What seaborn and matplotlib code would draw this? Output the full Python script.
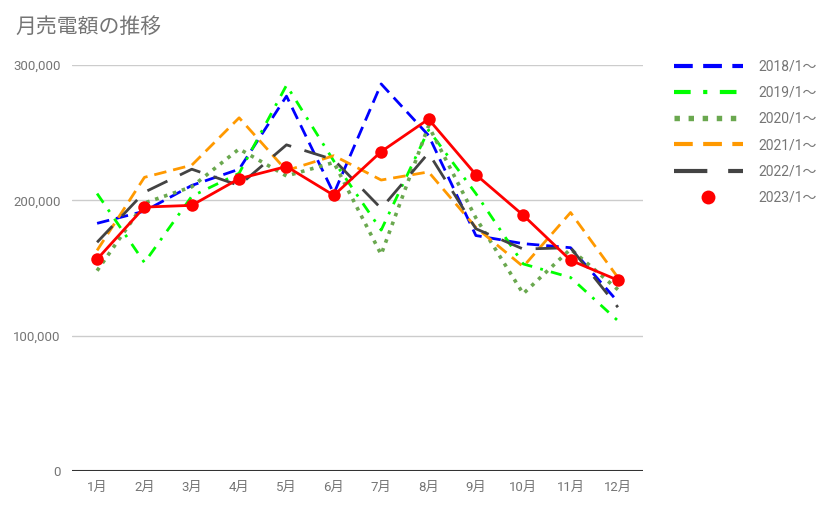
import matplotlib
matplotlib.use("Agg")
import matplotlib.pyplot as plt
from matplotlib.lines import Line2D
from matplotlib.ticker import FuncFormatter
import seaborn as sns
import pandas as pd

# monthly sales
months = ["1月", "2月", "3月", "4月", "5月", "6月", "7月", "8月", "9月", "10月", "11月", "12月"]
years = ["2018/1〜", "2019/1〜", "2020/1〜", "2021/1〜", "2022/1〜", "2023/1〜"]

sales_2018 = [183000, 192000, 211000, 223000, 277000, 205000, 286000, 248000, 174000, 168000, 165000, 125000]
sales_2019 = [205000, 154000, 203000, 220000, 285000, 229000, 178000, 252000, 205000, 153000, 143000, 111000]
sales_2020 = [148000, 198000, 210000, 238000, 218000, 228000, 160000, 255000, 187000, 131000, 164000, 134000]
sales_2021 = [163000, 217000, 226000, 261000, 222000, 233000, 215000, 221000, 180000, 151000, 191000, 143000]
sales_2022 = [169000, 206000, 223000, 211000, 241000, 230000, 194000, 235000, 179000, 164000, 165000, 121000]
sales_2023 = [156500, 195000, 196300, 216000, 225000, 203700, 236000, 260000, 219000, 189000, 155700, 141000]

series = [sales_2018, sales_2019, sales_2020, sales_2021, sales_2022, sales_2023]
colors = ["#0000ff", "#00ff00", "#6aa84f", "#ff9900", "#434343", "#ff0000"]
styles = [(0, (4.5, 2.5)), (0, (4, 3, 1, 3)), (0, (1, 1.6)), (0, (4.5, 2.5)), (0, (8, 5)), "-"]
widths = [2, 2, 2.6, 2, 2, 2]

sns.set_style("white")
plt.rcParams["font.family"] = ["Roboto", "Noto Sans CJK JP", "DejaVu Sans"]
grey = "#757575"

fig = plt.figure(figsize=(8.36, 5.08), dpi=100)
ax = fig.add_axes([72 / 836, 1 - 471 / 508, (643 - 72) / 836, (471 - 65) / 508])

for lab, vals, c, ls, lw in zip(years, series, colors, styles, widths):
    df = pd.DataFrame({"month": months, "sales": vals})
    if lab == "2023/1〜":
        sns.lineplot(data=df, x="month", y="sales", ax=ax, color=c, linewidth=lw,
                     marker="o", markersize=9, markeredgewidth=0, zorder=5)
    else:
        sns.lineplot(data=df, x="month", y="sales", ax=ax, color=c, linewidth=lw,
                     linestyle=ls)

ax.set_xlim(-0.53, 11.53)
ax.set_ylim(0, 300000)
ax.set_yticks([0, 100000, 200000, 300000])
ax.yaxis.set_major_formatter(FuncFormatter(lambda v, p: f"{int(v):,}"))
ax.grid(axis="y", color="#cccccc", linewidth=1)
ax.grid(axis="x", visible=False)
ax.axhline(0, color="#333333", linewidth=1.5, zorder=3)
for s in ax.spines.values():
    s.set_visible(False)
ax.tick_params(axis="both", length=0, colors=grey, labelsize=9.5)
ax.tick_params(axis="y", pad=8)
ax.tick_params(axis="x", pad=7)
ax.set_xlabel("")
ax.set_ylabel("")

fig.text(15 / 836, 1 - 27 / 508, "月売電額の推移", fontsize=15, color=grey, va="center", ha="left")

handles = []
for lab, c, ls, lw in zip(years, colors, styles, widths):
    if lab == "2023/1〜":
        handles.append(Line2D([], [], color=c, linestyle="none", marker="o", markersize=10, markeredgewidth=0))
    else:
        handles.append(Line2D([], [], color=c, linestyle=ls, linewidth=lw * 1.5))
leg = fig.legend(handles, years, loc="upper left", bbox_to_anchor=(661 / 836, 1 - 47 / 508),
                 frameon=False, handlelength=5.0, handletextpad=1.1, labelspacing=0.88,
                 fontsize=10)
for t in leg.get_texts():
    t.set_color(grey)

fig.savefig("out.png", dpi=100)
